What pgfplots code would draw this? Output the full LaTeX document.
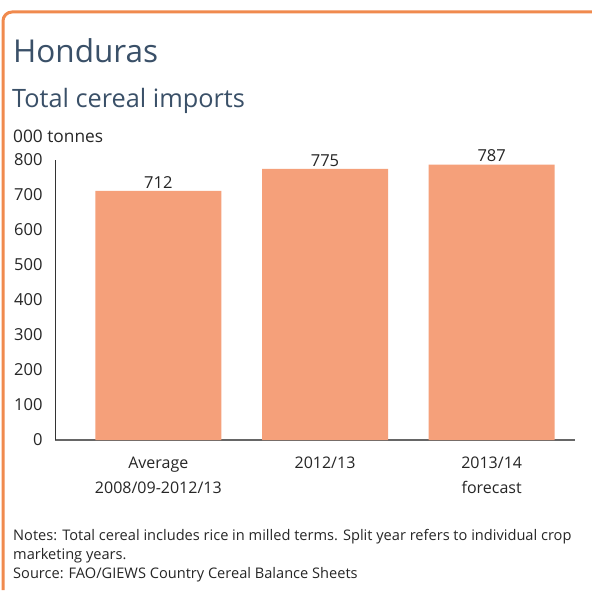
\documentclass[border=0pt]{standalone}
\usepackage{pgfplots}
\pgfplotsset{compat=1.18}
\usepackage{fontspec}
\setmainfont{Open Sans}
\definecolor{framec}{HTML}{F08A4E}
\definecolor{barc}{HTML}{F5A07A}
\definecolor{titlec}{HTML}{3A5068}
\definecolor{txt}{HTML}{262626}
\begin{document}
\begin{tikzpicture}[x=1pt,y=1pt]
\useasboundingbox (0,0) rectangle (592,590);
\fill[white] (0,0) rectangle (592,590);
\draw[framec, line width=3pt, rounded corners=9pt] (3,0) -- (3,578) -- (592,578);
\node[anchor=base west, inner sep=0pt, text=titlec, font=\fontsize{31.5}{36}\selectfont] at (13,527) {Honduras};
\node[anchor=base west, inner sep=0pt, text=titlec, font=\fontsize{25.3}{30}\selectfont] at (12,482) {Total cereal imports};
\node[anchor=base west, inner sep=0pt, text=txt, font=\fontsize{17.3}{18}\selectfont] at (13,447) {000 tonnes};
\begin{axis}[
  at={(55pt,150pt)}, anchor=south west,
  scale only axis, width=520pt, height=280pt,
  xmin=-0.62, xmax=2.5, ymin=0, ymax=800,
  axis x line*=bottom, axis y line*=left,
  x axis line style={draw=black!60, line width=1.6pt, -},
  y axis line style={draw=black!80, line width=1pt, -},
  ytick={0,100,...,800},
  major tick length=0pt,
  xtick={0,1,2},
  xticklabels={{Average\\[5pt]2008/09-2012/13},{2012/13},{2013/14\\[5pt]forecast}},
  /pgf/number format/assume math mode=true,
  yticklabel style={font=\fontsize{16.5}{18}\selectfont, text=txt, anchor=east, xshift=-9pt},
  xticklabel style={font=\fontsize{16}{20}\selectfont, text=txt, align=center, anchor=north, yshift=-13pt},
  ybar, bar width=126pt,
  nodes near coords,
  every node near coord/.append style={font=\fontsize{16.5}{18}\selectfont, text=txt, yshift=-1pt},
  clip=false,
]
\addplot[fill=barc, draw=none] coordinates {(0,712) (1,775) (2,787)};
\end{axis}
\begin{scope}[every node/.style={anchor=west, inner sep=0pt, text=txt, font=\fontsize{14.6}{15}\selectfont}]
\node at (13,53) {Notes: Total cereal includes rice in milled terms. Split year refers to individual crop};
\node at (13,34) {marketing years.};
\node at (13,15) {Source: FAO/GIEWS Country Cereal Balance Sheets};
\end{scope}
\end{tikzpicture}
\end{document}
